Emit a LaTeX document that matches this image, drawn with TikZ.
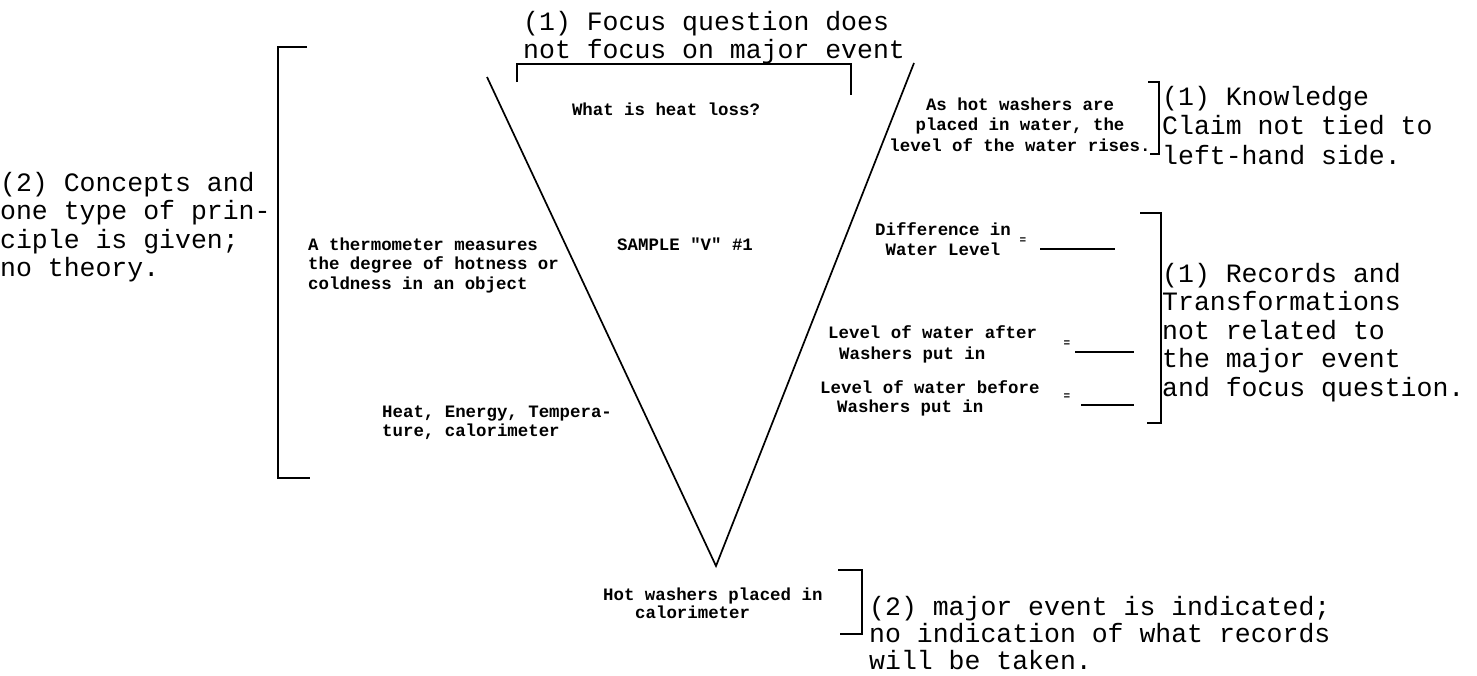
\documentclass[tikz,border=0pt]{standalone}
\usepackage{fontspec}
\newfontfamily\bigfont{Liberation Mono}
\newfontfamily\smallfont{Liberation Mono}
\newcommand{\tl}[1]{\begin{tabular}[t]{@{}l@{}}#1\end{tabular}}
\newcommand{\cl}[1]{\begin{tabular}[t]{@{}c@{}}#1\end{tabular}}
\begin{document}
\begin{tikzpicture}[x=1pt,y=-1pt,line cap=butt,
  bigtxt/.style={font=\bigfont\fontsize{26.5}{28}\selectfont, inner sep=0pt, anchor=base west},
  smalltxt/.style={font=\smallfont\bfseries\fontsize{17.4}{19.5}\selectfont, inner sep=0pt, anchor=base west},
  eqsign/.style={font=\smallfont\bfseries\fontsize{11}{11}\selectfont, inner sep=0pt},
  brk/.style={line width=1.8pt},
  vline/.style={line width=1.7pt},
  rule/.style={line width=1.6pt}]
\fill[white] (0,0) rectangle (1477,675);
\useasboundingbox (0,0) rectangle (1477,675);

% the V
\coordinate (vl) at (487,77);
\coordinate (apex) at (716,566);
\coordinate (vr) at (914,63);
\draw[vline] (vl) -- (apex) -- (vr);

% brackets
\draw[brk] (517,82) -- (517,64) -- (851,64) -- (851,95);
\draw[brk] (307,47) -- (278,47) -- (278,478) -- (310,478);
\draw[brk] (1148,82) -- (1159,82) -- (1159,154) -- (1150,154);
\draw[brk] (1140,213) -- (1161,213) -- (1161,423) -- (1147,423);
\draw[brk] (838,570) -- (862,570) -- (862,634) -- (840,634);

% big typewritten comments
\node[bigtxt] (focus) at (523,30) {\tl{(1) Focus question does\\not focus on major event}};
\node[bigtxt] (concepts) at (0,191) {\fontsize{26.5}{28.5}\selectfont\tl{(2) Concepts and\\one type of prin-\\ciple is given;\\no theory.}};
\node[bigtxt] (knowledge) at (1162,105) {\fontsize{26.5}{29.5}\selectfont\tl{(1) Knowledge\\Claim not tied to\\left-hand side.}};
\node[bigtxt] (records) at (1162,282) {\fontsize{26.5}{28.5}\selectfont\tl{(1) Records and\\Transformations\\not related to\\the major event\\and focus question.}};
\node[bigtxt] (major) at (869,615) {\fontsize{26.5}{26}\selectfont\tl{(2) major event is indicated;\\no indication of what records\\will be taken.}};

% small printed V contents
\node[smalltxt, anchor=base] (question) at (666,115) {What is heat loss?};
\node[smalltxt, anchor=base] (claim) at (1020,110) {\fontsize{17.4}{20.5}\selectfont\cl{As hot washers are\\placed in water, the\\level of the water rises.}};
\node[smalltxt] (principle) at (308,250) {\tl{A thermometer measures\\the degree of hotness or\\coldness in an object}};
\node[smalltxt] (conceptlist) at (382,417) {\tl{Heat, Energy, Tempera-\\ture, calorimeter}};
\node[smalltxt] (sample) at (617,250) {SAMPLE "V" \#1};
\node[smalltxt, anchor=base] (diff) at (943,235) {\fontsize{17.4}{20}\selectfont\cl{Difference in\\Water Level}};
\node[smalltxt] (after) at (828,338) {\fontsize{17.4}{21}\selectfont\tl{Level of water after\\\hspace{11pt}Washers put in}};
\node[smalltxt] (before) at (820,393) {\fontsize{17.4}{19}\selectfont\tl{Level of water before\\\hspace{17pt}Washers put in}};
\node[smalltxt] (event) at (603,600) {\fontsize{17.4}{18}\selectfont\tl{Hot washers placed in\\\hspace{32pt}calorimeter}};

% equals signs and blanks
\node[eqsign] (eq1) at (1023,241) {=};
\node[eqsign] (eq2) at (1067,344) {=};
\node[eqsign] (eq3) at (1067,397) {=};
\coordinate (r1a) at (1040,249); \coordinate (r1b) at (1115,249);
\coordinate (r2a) at (1075,352); \coordinate (r2b) at (1134,352);
\coordinate (r3a) at (1081,405); \coordinate (r3b) at (1134,405);
\draw[rule] (r1a) -- (r1b);
\draw[rule] (r2a) -- (r2b);
\draw[rule] (r3a) -- (r3b);
\end{tikzpicture}
\end{document}
